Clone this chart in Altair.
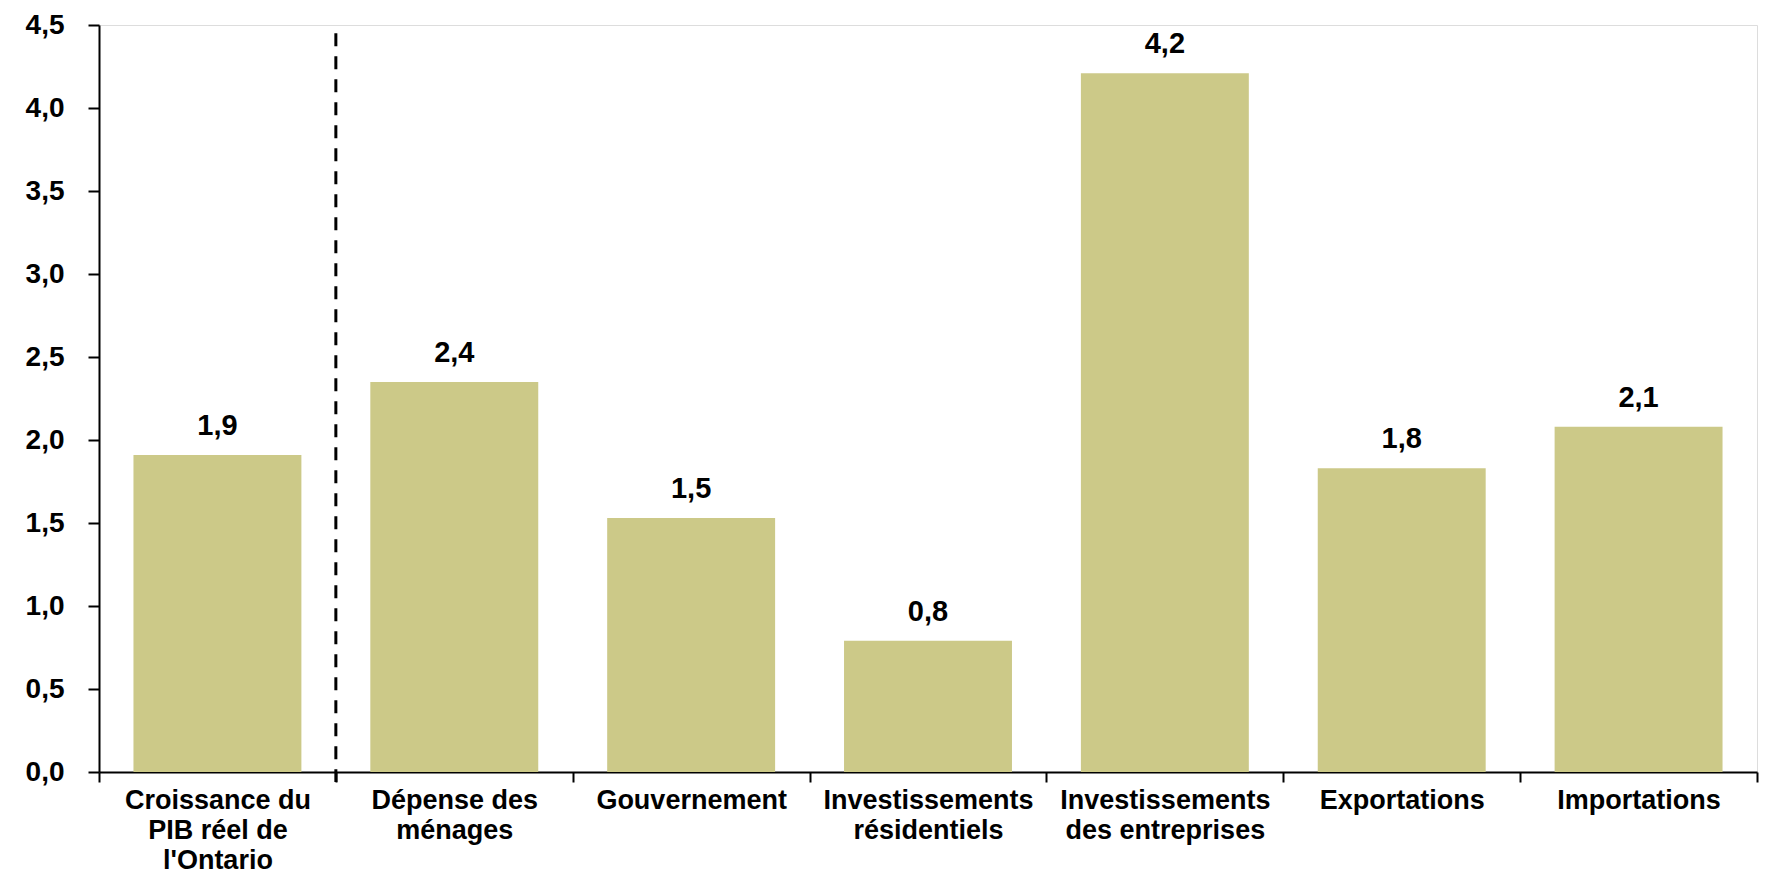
import altair as alt
import pandas as pd

categories = [
    "Croissance du\nPIB réel de\nl'Ontario",
    "Dépense des\nménages",
    "Gouvernement",
    "Investissements\nrésidentiels",
    "Investissements\ndes entreprises",
    "Exportations",
    "Importations",
]
values = [1.91, 2.35, 1.53, 0.79, 4.21, 1.83, 2.08]
labels = ["1,9", "2,4", "1,5", "0,8", "4,2", "1,8", "2,1"]
y_ticks = [0, 0.5, 1, 1.5, 2, 2.5, 3, 3.5, 4, 4.5]
divider_category = ["Dépense des\nménages"]
divider_top = [4.45]

W, H = 1658, 747
FONT = "Liberation Sans"
BAR = "#CCC988"

df = pd.DataFrame({"cat": categories, "val": values, "lab": labels})
div = pd.DataFrame({"cat": divider_category, "top": divider_top})

xenc = alt.X(
    "cat:N",
    sort=categories,
    scale=alt.Scale(paddingInner=0, paddingOuter=0),
    axis=alt.Axis(
        title=None,
        labelAngle=0,
        labelExpr="split(datum.label, '\\n')",
        labelFont=FONT,
        labelFontSize=27,
        labelFontWeight="bold",
        labelColor="black",
        labelLineHeight=30,
        labelPadding=5,
        tickBand="extent",
        tickSize=10,
        tickWidth=2,
        tickColor="black",
        domainColor="black",
        domainWidth=2,
        labelLimit=400,
    ),
)

yenc = alt.Y(
    "val:Q",
    scale=alt.Scale(domain=[0, 4.5], nice=False),
    axis=alt.Axis(
        title=None,
        values=y_ticks,
        labelExpr="replace(format(datum.value, '.1f'), '.', ',')",
        labelFont=FONT,
        labelFontSize=28,
        labelFontWeight="bold",
        labelColor="black",
        labelPadding=24,
        tickSize=11,
        tickWidth=2,
        tickColor="black",
        domainColor="black",
        domainWidth=2,
        grid=False,
    ),
)

bars = alt.Chart(df).mark_bar(color=BAR, width=alt.RelativeBandSize(0.709)).encode(
    x=xenc, y=yenc
)

text = alt.Chart(df).mark_text(
    dy=-20, baseline="alphabetic", font=FONT, fontSize=29, fontWeight="bold", color="black"
).encode(
    x=alt.X("cat:N", sort=categories),
    y=alt.Y("val:Q"),
    text="lab:N",
)

rule = alt.Chart(div).mark_rule(color="black", strokeWidth=3, strokeDash=[13, 10]).encode(
    x=alt.X("cat:N", sort=categories, bandPosition=0),
    y=alt.Y("top:Q"),
    y2=alt.value(H + 10),
)

chart = (
    alt.layer(bars, rule, text)
    .properties(
        width=W,
        height=H,
        autosize=alt.AutoSizeParams(type="none"),
        padding={"left": 91, "top": 17, "right": 2, "bottom": 104},
    )
    .configure_view(stroke=None)
    .configure(background="white")
)

chart.save("out.html", embed_options={"renderer": "svg", "actions": False})
